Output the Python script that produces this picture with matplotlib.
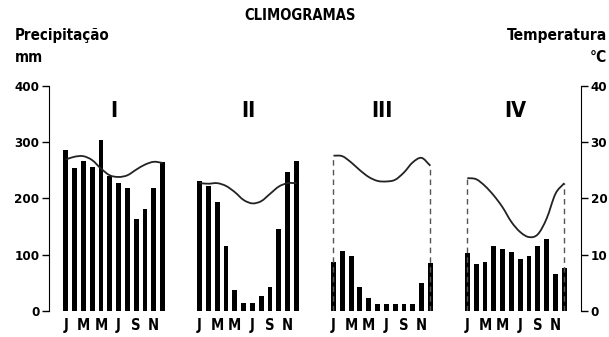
import numpy as np
import matplotlib
matplotlib.use("Agg")
import matplotlib.pyplot as plt
from matplotlib.path import Path
from matplotlib.patches import PathPatch

plt.rcParams['font.family'] = ['DejaVu Sans']
plt.rcParams['font.stretch'] = 'condensed'
plt.rcParams['font.weight'] = 'bold'

# dados
panels = ['I', 'II', 'III', 'IV']
month_labels = ['J', '', 'M', '', 'M', '', 'J', '', 'S', '', 'N', '']

prec_I = [286, 254, 266, 256, 304, 240, 228, 218, 163, 181, 218, 264]
prec_II = [230, 222, 194, 115, 37, 13, 13, 26, 43, 146, 246, 267]
prec_III = [87, 107, 97, 43, 22, 12, 12, 12, 12, 12, 50, 85]
prec_IV = [102, 83, 87, 116, 109, 104, 92, 98, 115, 127, 65, 76]

temp_I = [26.9, 27.4, 27.5, 26.8, 25.3, 24.1, 23.8, 24.1, 25.1, 26.0, 26.5, 26.3]
temp_II = [22.7, 22.6, 22.7, 22.2, 21.1, 19.7, 19.1, 19.5, 20.8, 22.1, 22.7, 22.7]
temp_III = [27.6, 27.5, 26.4, 25.0, 23.8, 23.1, 23.0, 23.3, 24.6, 26.4, 27.2, 25.8]
temp_IV = [23.6, 23.4, 22.2, 20.5, 18.4, 15.8, 14.0, 13.1, 13.6, 16.4, 20.8, 22.7]

precs = [prec_I, prec_II, prec_III, prec_IV]
temps = [temp_I, temp_II, temp_III, temp_IV]
dashed = [False, False, True, True]

GAP = 15.2  # distância entre climogramas (em meses)


def smooth_path(x, y):
    # curva suave passando pelos pontos mensais (Catmull-Rom -> Bezier)
    pts = np.column_stack([x, y])
    verts = [pts[0]]
    codes = [Path.MOVETO]
    n = len(pts)
    for i in range(n - 1):
        p0 = pts[i - 1] if i > 0 else 2 * pts[0] - pts[1]
        p1 = pts[i]
        p2 = pts[i + 1]
        p3 = pts[i + 2] if i + 2 < n else 2 * pts[-1] - pts[-2]
        verts += [p1 + (p2 - p0) / 6, p2 - (p3 - p1) / 6, p2]
        codes += [Path.CURVE4] * 3
    return Path(verts, codes)


fig = plt.figure(figsize=(6.09, 3.37), dpi=100)
ax = fig.add_axes([0.081, 0.078, 0.873, 0.667])
ax2 = ax.twinx()

months = np.arange(12)
xticks, xlabels = [], []
for p in range(4):
    xs = p * GAP + months
    ax.bar(xs, precs[p], width=0.55, color='black', zorder=2)
    ax2.add_patch(PathPatch(smooth_path(xs, temps[p]), facecolor='none',
                            edgecolor='#222222', lw=1.3, zorder=3))
    if dashed[p]:
        for i in (0, 11):
            ax2.plot([xs[i], xs[i]], [0, temps[p][i]], color='#555555',
                     lw=1.0, ls=(0, (4, 3)), zorder=1)
    ax.text(xs.mean(), 355, panels[p], ha='center', va='center',
            fontsize=15.5, fontweight='bold')
    xticks += list(xs)
    xlabels += month_labels

ax.set_xlim(-1.86, 3 * GAP + 11 + 1.9)
ax.set_ylim(0, 400)
ax2.set_ylim(0, 40)
ax.set_yticks([0, 100, 200, 300, 400])
ax2.set_yticks([0, 10, 20, 30, 40])
ax.set_xticks(xticks)
ax.set_xticklabels(xlabels, fontsize=10.5, fontweight='bold')
ax.tick_params(axis='x', length=0, pad=5)
ax.tick_params(axis='y', length=5, width=1, labelsize=9.5, pad=2)
ax2.tick_params(axis='y', length=5, width=1, labelsize=9.5, pad=2)

for a in (ax, ax2):
    for s in ('top', 'bottom'):
        a.spines[s].set_visible(False)
ax.spines['right'].set_visible(False)
ax2.spines['left'].set_visible(False)
ax.spines['left'].set_bounds(0, 400)
ax2.spines['right'].set_bounds(0, 40)

fig.text(0.492, 0.955, 'CLIMOGRAMAS', ha='center', va='center', fontsize=10.5)
fig.text(0.024, 0.895, 'Precipitação', ha='left', va='center', fontsize=10.8)
fig.text(0.024, 0.828, 'mm', ha='left', va='center', fontsize=10.8)
fig.text(0.997, 0.895, 'Temperatura', ha='right', va='center', fontsize=11.2)
fig.text(0.997, 0.828, '°C', ha='right', va='center', fontsize=11.2)

fig.savefig('out.png', dpi=100, facecolor='white')
